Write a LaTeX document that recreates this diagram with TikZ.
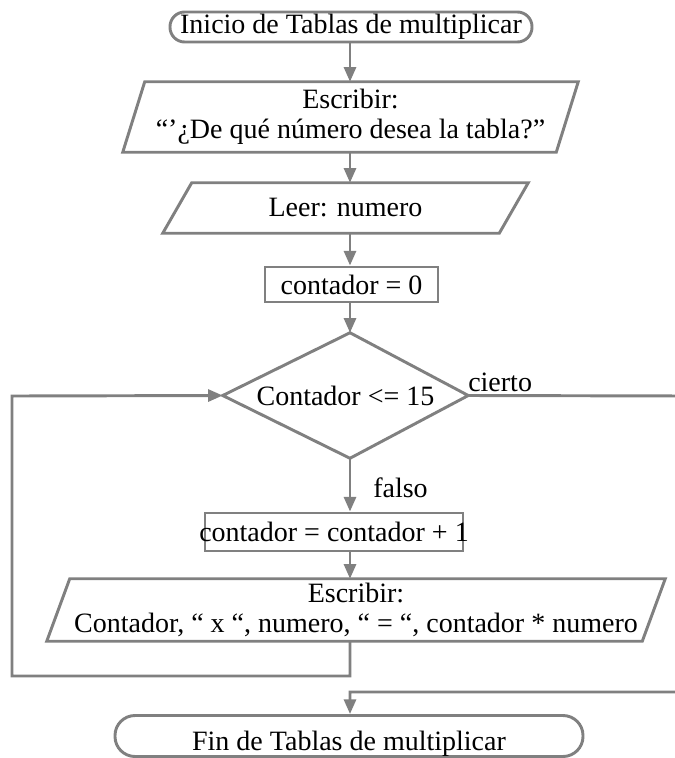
\documentclass[tikz,border=0pt]{standalone}
\usepackage{fontspec}
\setmainfont{Liberation Serif}
\usetikzlibrary{arrows.meta,calc}
\definecolor{lg}{RGB}{128,128,128}
\newcommand{\px}{0.75pt}
\begin{document}
\begin{tikzpicture}[x=0.75pt,y=-0.75pt,
 line/.style={draw=lg,line width=2.2pt},
 arr/.style={line,-{Triangle[length=11pt,width=9pt]}},
 txt/.style={font=\fontsize{21}{22.5}\selectfont,text=black,align=center,inner sep=0pt},
 box/.style={txt,line,rectangle},
 term/.style={txt,line,rectangle},
 ghost/.style={txt,rectangle}]
\useasboundingbox (0,0) rectangle (675,758);
\fill[white] (0,0) rectangle (675,758);
\coordinate (ax) at (350,0);

\node[term,rounded corners=11pt,minimum width=362*\px,minimum height=30*\px] (start) at (351,27) {Inicio de Tablas de multiplicar};

\node[ghost,minimum width=455*\px,minimum height=70*\px] (p1) at (350.5,117) {Escribir:\\“'¿De qué número desea la tabla?”};
\draw[line] ($(p1.north west)+(22,0)$) -- (p1.north east) -- ($(p1.south east)+(-22,0)$) -- (p1.south west) -- cycle;

\node[ghost,minimum width=365*\px,minimum height=50*\px] (p2) at (345.5,208) {Leer: numero};
\draw[line] ($(p2.north west)+(29,0)$) -- (p2.north east) -- ($(p2.south east)+(-29,0)$) -- (p2.south west) -- cycle;

\node[box,minimum width=173*\px,minimum height=35*\px] (r1) at (351.5,284.5) {contador = 0};

\node[ghost,minimum width=245*\px,minimum height=125*\px] (dec) at (345.5,395.5) {Contador <= 15};
\draw[line] (dec.west) -- (ax |- dec.north) -- (dec.east) -- (ax |- dec.south) -- cycle;

\node[box,minimum width=258*\px,minimum height=38*\px] (r2) at (334,532) {\makebox[0pt]{contador = contador + 1}};

\node[ghost,minimum width=618*\px,minimum height=62*\px] (p3) at (356,610) {Escribir:\\Contador, “ x “, numero, “ = “, contador * numero};
\draw[line] ($(p3.north west)+(23,0)$) -- (p3.north east) -- ($(p3.south east)+(-23,0)$) -- (p3.south west) -- cycle;

\node[term,rounded corners=15pt,minimum width=468*\px,minimum height=41*\px] (en) at (349,736) {};
\node[txt] (ent) at (349,744) {Fin de Tablas de multiplicar};

\node[txt,anchor=base west] (lc) at (468,391) {cierto};
\node[txt,anchor=base west] (lf) at (373,497) {falso};

\coordinate (l1) at (350,676);
\coordinate (l2) at (12,676);
\coordinate (l3) at (12,396);
\coordinate (c1) at (690,396);
\coordinate (c2) at (690,692);
\coordinate (c3) at (350,692);

\draw[arr] (ax |- start.south) -- (ax |- p1.north);
\draw[arr] (ax |- p1.south) -- (ax |- p2.north);
\draw[arr] (ax |- p2.south) -- (ax |- r1.north);
\draw[arr] (ax |- r1.south) -- (ax |- dec.north);
\draw[arr] (ax |- dec.south) -- (ax |- r2.north);
\draw[arr] (ax |- r2.south) -- (ax |- p3.north);
\draw[arr] (ax |- p3.south) -- (l1) -- (l2) -- (l3) -- (dec.west);
\draw[arr] (dec.east) -- (c1) -- (c2) -- (c3) -- (ax |- en.north);
\end{tikzpicture}
\end{document}
